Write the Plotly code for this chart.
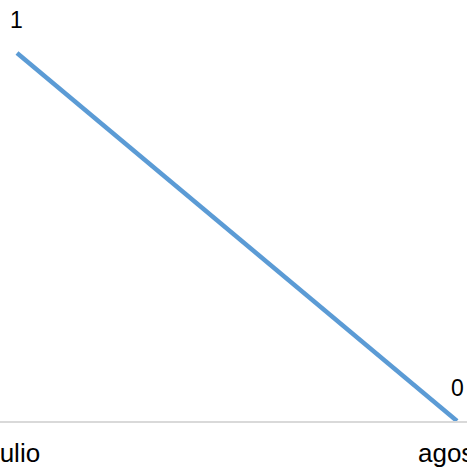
import plotly.graph_objects as go

categories = ["julio", "agosto"]
values = [1, 0]
labels = [str(v) for v in values]

fig = go.Figure()
fig.add_trace(go.Scatter(
    x=categories, y=values, mode="lines",
    line=dict(color="#5B9BD5", width=4.5),
    hoverinfo="skip", showlegend=False,
))
for c, v, t in zip(categories, values, labels):
    fig.add_annotation(x=c, y=v, text=t, showarrow=False, yshift=33,
                       font=dict(family="Liberation Sans, Arial", size=23, color="#000000"))

fig.update_layout(
    width=467, height=472,
    margin=dict(l=0, r=0, t=0, b=51, autoexpand=False),
    paper_bgcolor="white", plot_bgcolor="white",
    font=dict(family="Liberation Sans, Arial", size=22, color="#000000"),
    xaxis=dict(type="category", range=[-0.0386, 1.0227], showgrid=False, automargin=False,
               showline=True, linecolor="#D9D9D9", linewidth=1.5, ticks="",
               ticklabelstandoff=8,
               tickfont=dict(size=26, color="#000000"), zeroline=False),
    yaxis=dict(range=[0, 1.144], showgrid=False, showline=False, showticklabels=False,
               zeroline=False, ticks="", automargin=False),
)
post = ("document.body.style.margin='0';document.body.style.overflow='hidden';"
        "Plotly.relayout('{plot_id}', {width:467, height:472});")
fig.write_html("out.html", post_script=post, config={"responsive": False, "displayModeBar": False})
